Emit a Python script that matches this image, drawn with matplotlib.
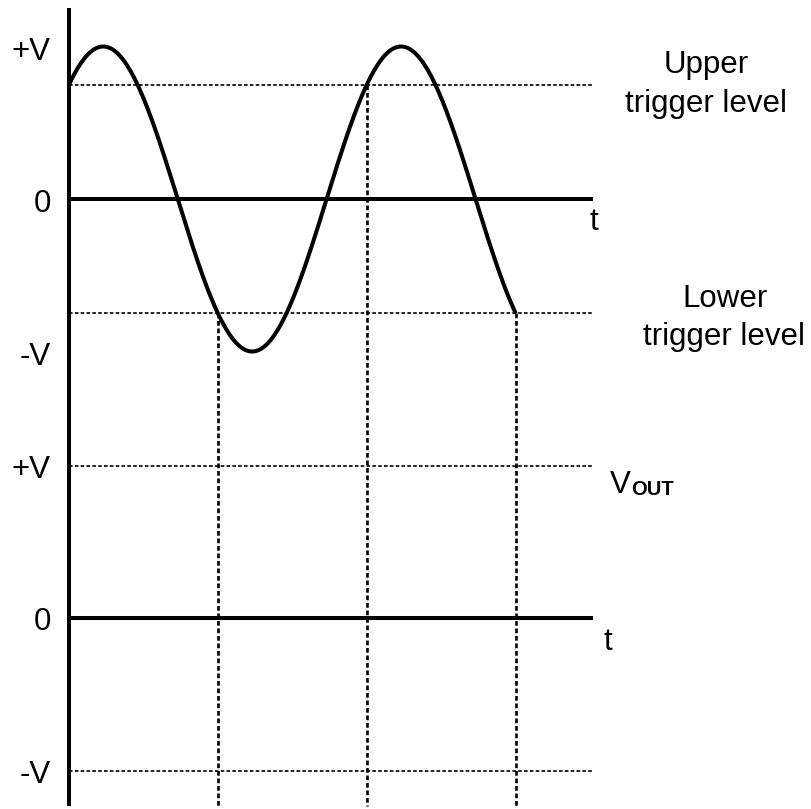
import numpy as np
import matplotlib
matplotlib.use("Agg")
import matplotlib.pyplot as plt

plt.rcParams['font.family'] = ['Liberation Sans', 'DejaVu Sans']
plt.rcParams['lines.scale_dashes'] = False

# ---- data ----
upper_trigger = 0.75          # fraction of +V
lower_trigger = -0.75
input_amplitude = 1.0
n_half_cycles = 3             # input drawn from UTL start until third trigger crossing
vout_levels = [1.0, 0.0, -1.0]
vout_offset = -2.75           # vertical position of the output trace's zero line
t_end_axis = 11.01            # extent of the time axes
left_labels_top = ['+V', '0', '-V']
left_labels_bottom = ['+V', '0', '-V']

# ---- derived input waveform ----
phi = np.arcsin(upper_trigger / input_amplitude)
t_stop = n_half_cycles * np.pi           # sin(t+phi) hits -0.75 at t = 3*pi
t = np.linspace(0, t_stop, 600)
v_in = input_amplitude * np.sin(t + phi)
# switching instants: where the input crosses the trigger levels
switch_times = [np.pi, 2 * np.pi, 3 * np.pi]
switch_levels = [lower_trigger, upper_trigger, lower_trigger]

# ---- figure ----
W, H = 811, 809
S = 47.4      # px per rad
A = 152.5     # px per volt unit
X0, Y0 = 69, 199
fig = plt.figure(figsize=(W / 100, H / 100), dpi=100)
ax = fig.add_axes([0, 0, 1, 1])
ax.set_xlim(-X0 / S, (W - X0) / S)
ax.set_ylim(-(H - Y0) / A, Y0 / A)
ax.axis('off')

thick = 2.9
dot_h = dict(color='black', lw=1.2, linestyle=(0, (2.6, 1.6)))
dot_v = dict(color='black', lw=1.9, linestyle=(0, (3.4, 2.0)))

x_end = (593 - X0) / S

# vertical axis
ax.plot([0, 0], [(Y0 - 8) / A, -(806 - Y0) / A], color='black', lw=thick,
        solid_capstyle='butt')

# top panel
ax.plot([0, x_end], [0, 0], color='black', lw=thick, solid_capstyle='butt')
ax.plot([0, x_end], [upper_trigger, upper_trigger], **dot_h)
ax.plot([0, x_end], [lower_trigger, lower_trigger], **dot_h)

# bottom panel
for lvl in vout_levels:
    y = vout_offset + lvl
    if lvl == 0:
        ax.plot([0, x_end], [y, y], color='black', lw=thick, solid_capstyle='butt')
    else:
        ax.plot([0, x_end], [y, y], **dot_h)

# vertical dotted switching lines
y_bottom = -(806 - Y0) / A
for ts, lv in zip(switch_times, switch_levels):
    ax.plot([ts, ts], [lv, y_bottom], **dot_v)

# input sine
ax.plot(t, v_in, color='black', lw=thick, solid_capstyle='butt', zorder=5)

# ---- text ----
fs = 22.5
def fpos(px, py):
    return px / W, 1 - py / H

levels_top = [input_amplitude, 0, -input_amplitude]
for lab, lv in zip(left_labels_top, levels_top):
    py = Y0 - lv * A + 13
    fig.text(*fpos(51, py), lab, ha='right', va='baseline', fontsize=fs)
for lab, lv in zip(left_labels_bottom, vout_levels):
    py = Y0 - (vout_offset + lv) * A + 12
    fig.text(*fpos(51, py), lab, ha='right', va='baseline', fontsize=fs)

# t labels
fig.text(*fpos(590, 230), 't', ha='left', va='baseline', fontsize=fs)
fig.text(*fpos(604, 650), 't', ha='left', va='baseline', fontsize=fs)

# trigger level descriptions
fig.text(*fpos(706, 73), 'Upper', ha='center', va='baseline', fontsize=fs)
fig.text(*fpos(706, 112), 'trigger level', ha='center', va='baseline', fontsize=fs)
fig.text(*fpos(725, 307), 'Lower', ha='center', va='baseline', fontsize=fs)
fig.text(*fpos(724, 345), 'trigger level', ha='center', va='baseline', fontsize=fs)

# V_OUT
fig.text(*fpos(610, 493), 'V', ha='left', va='baseline', fontsize=fs)
fig.text(*fpos(631, 495), 'OUT', ha='left', va='baseline', fontsize=14.5, fontweight='bold')

fig.savefig('out.png', dpi=100, facecolor='white')
